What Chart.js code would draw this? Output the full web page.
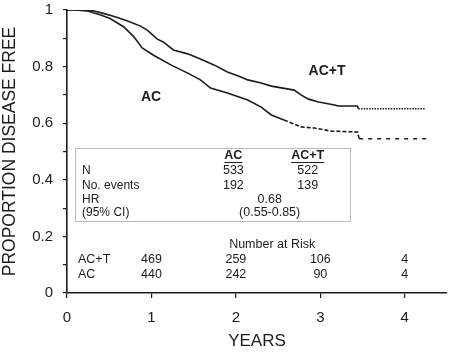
<!DOCTYPE html>
<html><head><meta charset="utf-8">
<script src="https://cdn.jsdelivr.net/npm/chart.js@4"></script>
<style>html,body{margin:0;padding:0;background:#fff}canvas{display:block}</style>
</head><body>
<canvas id="c" width="458" height="359"></canvas>
<script>
// ---- data ----
const yearsACT = [0, 0.1, 0.24, 0.31, 0.43, 0.55, 0.71, 0.87, 0.95, 1.07, 1.14, 1.26, 1.43, 1.58, 1.74, 1.9, 2.06, 2.14, 2.3, 2.42, 2.69, 2.77, 2.86, 2.98, 3.17, 3.21, 3.44, 3.45, 4.24];
const survACT  = [1.0, 1.0, 0.998, 0.997, 0.988, 0.978, 0.962, 0.943, 0.929, 0.897, 0.887, 0.859, 0.845, 0.827, 0.806, 0.781, 0.763, 0.753, 0.742, 0.731, 0.717, 0.700, 0.685, 0.675, 0.664, 0.661, 0.661, 0.651, 0.651];
const yearsAC  = [0, 0.1, 0.24, 0.31, 0.4, 0.51, 0.67, 0.79, 0.89, 1.02, 1.23, 1.43, 1.58, 1.7, 1.9, 2.14, 2.3, 2.42, 2.57, 2.77, 2.93, 3.13, 3.44, 3.46, 4.3];
const survAC   = [1.0, 1.0, 0.997, 0.99, 0.982, 0.97, 0.941, 0.906, 0.866, 0.841, 0.806, 0.777, 0.753, 0.724, 0.707, 0.682, 0.657, 0.629, 0.611, 0.587, 0.583, 0.572, 0.569, 0.545, 0.545];

const xTickValues = [0, 1, 2, 3, 4];
const yTickValues = [0, 0.1, 0.2, 0.3, 0.4, 0.5, 0.6, 0.7, 0.8, 0.9, 1.0];
const yTickLabels = ['0', '', '0.2', '', '0.4', '', '0.6', '', '0.8', '', '1'];

const tableGroups = ['AC', 'AC+T'];
const tableRowLabels = ['N', 'No. events', 'HR', '(95% CI)'];
const tableN = ['533', '522'];
const tableEvents = ['192', '139'];
const tableHR = '0.68';
const tableCI = '(0.55-0.85)';

const riskTitle = 'Number at Risk';
const riskYears = [1, 2, 3, 4];
const riskLabels = ['AC+T', 'AC'];
const riskACT = [469, 259, 106, 4];
const riskAC = [440, 242, 90, 4];

const FONT = "'Liberation Sans', Arial, Helvetica, sans-serif";
const INK = '#1c1c1c';

const annot = {
  id: 'annot',
  afterDraw(chart) {
    const {ctx, scales: {x, y}} = chart;
    const X = v => x.getPixelForValue(v), Y = v => y.getPixelForValue(v);
    ctx.save();
    ctx.fillStyle = INK;
    ctx.textBaseline = 'middle';

    // curve labels
    ctx.font = 'bold 14px ' + FONT;
    ctx.textAlign = 'center';
    ctx.fillText('AC+T', X(3.08), Y(0.784));
    ctx.fillText('AC', X(0.995), Y(0.693));

    // table box
    const bl = Math.round(X(0.095)) + 0.5, br = Math.round(X(3.357)) + 0.5;
    const bt = Math.round(Y(0.512)) + 0.5, bb = Math.round(Y(0.254)) + 0.5;
    ctx.strokeStyle = '#777';
    ctx.lineWidth = 1;
    ctx.setLineDash([1, 1]);
    ctx.strokeRect(bl, bt, br - bl, bb - bt);
    ctx.setLineDash([]);

    // header
    const colX = [1.97, 2.85];
    ctx.font = 'bold 12.5px ' + FONT;
    ctx.textAlign = 'center';
    tableGroups.forEach((g, i) => {
      const cx = X(colX[i]), cy = Y(0.484);
      ctx.fillText(g, cx, cy);
      const w = ctx.measureText(g).width;
      ctx.fillRect(cx - w / 2, cy + 6, w, 1);
    });
    const rowY = [0.431, 0.378, 0.329, 0.283];
    ctx.font = '12px ' + FONT;
    ctx.textAlign = 'left';
    tableRowLabels.forEach((r, i) => ctx.fillText(r, X(0.178), Y(rowY[i])));
    ctx.font = '12.5px ' + FONT;
    ctx.textAlign = 'center';
    tableN.forEach((v, i) => ctx.fillText(v, X(colX[i]), Y(rowY[0])));
    tableEvents.forEach((v, i) => ctx.fillText(v, X(colX[i]), Y(rowY[1])));
    ctx.fillText(tableHR, X(2.4), Y(rowY[2]));
    ctx.fillText(tableCI, X(2.4), Y(rowY[3]));

    // number at risk
    ctx.font = '12.5px ' + FONT;
    ctx.fillText(riskTitle, X(2.43), Y(0.17));
    ctx.textAlign = 'left';
    ctx.fillText(riskLabels[0], X(0.13), Y(0.117));
    ctx.fillText(riskLabels[1], X(0.13), Y(0.064));
    ctx.textAlign = 'center';
    riskYears.forEach((t, i) => {
      ctx.fillText(String(riskACT[i]), X(t), Y(0.117));
      ctx.fillText(String(riskAC[i]), X(t), Y(0.064));
    });
    ctx.restore();
  }
};

new Chart(document.getElementById('c'), {
  type: 'line',
  data: {
    datasets: [
      {
        label: 'AC+T',
        data: yearsACT.map((t, i) => ({x: t, y: survACT[i]})),
        borderColor: INK, borderWidth: 1.6, pointRadius: 0, tension: 0, fill: false,
        segment: { borderDash: c => c.p0.parsed.x >= 3.445 ? [1.5, 1.2] : undefined }
      },
      {
        label: 'AC',
        data: yearsAC.map((t, i) => ({x: t, y: survAC[i]})),
        borderColor: INK, borderWidth: 1.6, pointRadius: 0, tension: 0, fill: false,
        segment: { borderDash: c => c.p0.parsed.x >= 3.455 ? [4, 5] : (c.p0.parsed.x >= 2.55 ? [4, 2] : undefined) }
      }
    ]
  },
  options: {
    responsive: false,
    animation: false,
    layout: { padding: { top: 10, right: 11, left: 0, bottom: 0 } },
    plugins: { legend: { display: false }, tooltip: { enabled: false } },
    scales: {
      x: {
        type: 'linear', min: 0, max: 4.5,
        afterBuildTicks: s => { s.ticks = xTickValues.map(v => ({value: v})); },
        ticks: { callback: v => String(v), font: { size: 15, family: FONT }, color: INK, padding: 11, maxRotation: 0, autoSkip: false },
        grid: { drawOnChartArea: false, drawTicks: true, tickLength: 5, color: INK, lineWidth: 1.2 },
        border: { color: INK, width: 1.6 },
        title: { display: true, text: 'YEARS', font: { size: 17, family: FONT }, color: INK, padding: { top: 7, bottom: 7 } },
        afterFit: s => { s.height = 66; s.paddingLeft = 0; s.paddingRight = 0; }
      },
      y: {
        type: 'linear', min: 0, max: 1,
        afterBuildTicks: s => { s.ticks = yTickValues.map(v => ({value: v})); },
        ticks: { callback: (v, i) => yTickLabels[i], font: { size: 15, family: FONT }, color: INK, padding: 10, autoSkip: false },
        grid: { drawOnChartArea: false, drawTicks: true, tickLength: 4, color: INK, lineWidth: 1.2 },
        border: { color: INK, width: 1.6 },
        title: { display: true, text: 'PROPORTION DISEASE FREE', font: { size: 17.5, family: FONT }, color: INK, padding: { top: 0, bottom: 0 } },
        afterFit: s => { s.width = 67; s.paddingTop = 0; s.paddingBottom = 0; }
      }
    }
  },
  plugins: [annot]
});
</script>
</body></html>
